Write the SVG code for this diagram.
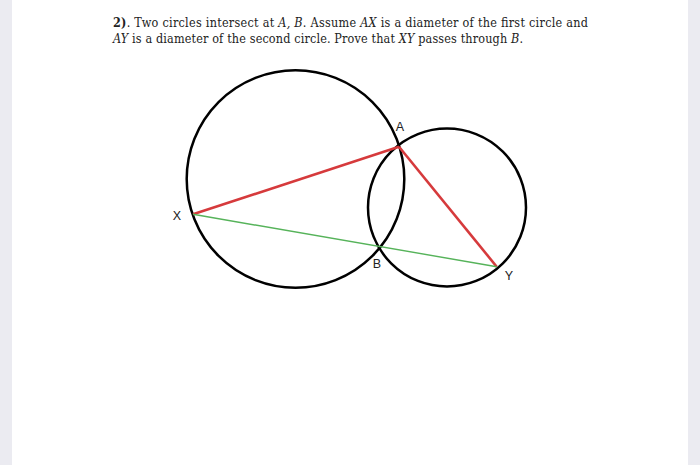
<svg xmlns="http://www.w3.org/2000/svg" width="700" height="465" viewBox="0 0 700 465">
<style>
.circ{fill:none;stroke:#000;stroke-width:2.5}
.red{stroke:#d63a3c;stroke-width:2.6;fill:none}
.green{stroke:#56b35a;stroke-width:1.4;fill:none}
.lbl{font-family:"Liberation Sans",Arial,sans-serif;font-size:12.5px;fill:#222;text-anchor:middle}
.txt{font-size:12.5px;fill:#222}
</style>
<rect width="700" height="465" fill="#ffffff"/>
<rect x="0" y="0" width="12" height="465" fill="#ebebf1"/>
<rect x="688" y="0" width="12" height="465" fill="#ebebf1"/>
<g id="problem-text" font-family="'DejaVu Serif Condensed', 'DejaVu Serif', serif" font-stretch="condensed">
<text class="txt" x="113" y="27" textLength="475" lengthAdjust="spacing"><tspan font-weight="bold">2)</tspan>. Two circles intersect at <tspan font-style="italic">A, B</tspan>. Assume <tspan font-style="italic">AX</tspan> is a diameter of the first circle and</text>
<text class="txt" x="113" y="43" textLength="410" lengthAdjust="spacing"><tspan font-style="italic">AY</tspan> is a diameter of the second circle. Prove that <tspan font-style="italic">XY</tspan> passes through <tspan font-style="italic">B</tspan>.</text>
</g>
<g id="circle1"><circle class="circ" cx="295.5" cy="179" r="108.8"/></g>
<g id="circle2"><circle class="circ" cx="447" cy="207.5" r="79"/></g>
<g id="connectors">
<line class="red" x1="193" y1="214.3" x2="399" y2="146.7"/>
<line class="red" x1="399" y1="146.7" x2="496.7" y2="266.7"/>
<line class="green" x1="193" y1="214.3" x2="496.7" y2="266.7"/>
</g>
<g id="A"><text class="lbl" x="400" y="130.5">A</text></g>
<g id="X"><text class="lbl" x="177" y="219.5">X</text></g>
<g id="B"><text class="lbl" x="377" y="268">B</text></g>
<g id="Y"><text class="lbl" x="509" y="279.5">Y</text></g>
</svg>
